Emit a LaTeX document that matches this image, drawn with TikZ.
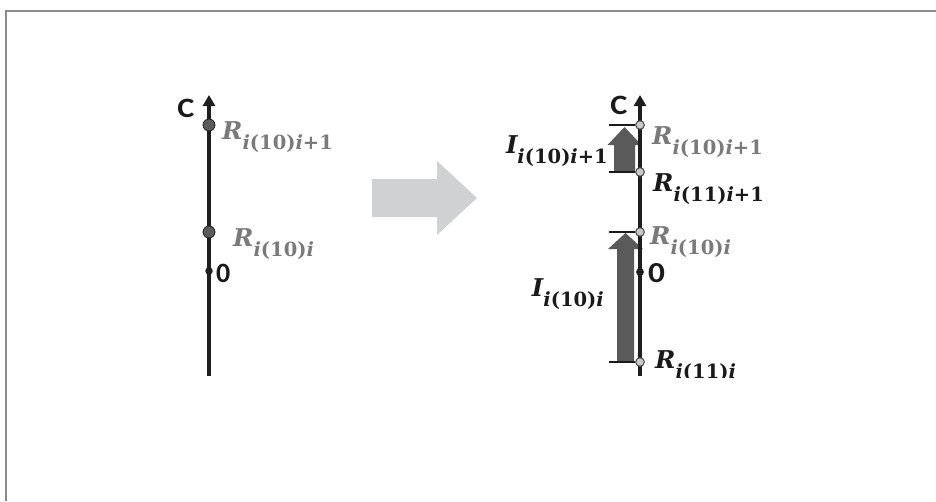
\documentclass[tikz,border=0pt]{standalone}
\usepackage{fontspec}
\usetikzlibrary{arrows.meta}

% label fonts
\newfontfamily\lblfont{DejaVu Serif}
\newfontfamily\axfont[FakeStretch=1.15]{Carlito}
\newfontfamily\zerofont{Carlito}
\newfontfamily\zerowide[FakeStretch=1.15]{Carlito}

\definecolor{framegray}{HTML}{8A8A8A}
\definecolor{axisblack}{HTML}{1E1E1E}
\definecolor{lblgray}{HTML}{7A7A7A}
\definecolor{lblblack}{HTML}{1A1A1A}
\definecolor{bigarrow}{HTML}{D0D1D3}
\definecolor{blockgray}{HTML}{5A5A5A}
\definecolor{dotdark}{HTML}{5B5B5B}
\definecolor{dotlight}{HTML}{C9C9C9}

% symbol with a lowered subscript
\newcommand\symsub[2]{{\fontsize{24.5}{24.5}\selectfont\itshape #1}\raisebox{-10pt}{\fontsize{19.5}{19.5}\selectfont #2}}
% subscript i(..)i...
\newcommand\idx[2]{\textit{i}(#1)\textit{i}#2}

\tikzset{
  axis/.style={line width=3.5pt, draw=axisblack, -{Triangle[width=12pt,length=11pt]}},
  bigdot/.style={circle, minimum size=12pt, inner sep=0pt, fill=dotdark, draw=axisblack, line width=0.8pt},
  opendot/.style={circle, minimum size=8.5pt, inner sep=0pt, fill=dotlight, draw=axisblack!80, line width=0.9pt},
  zerodot/.style={circle, minimum size=7.5pt, inner sep=0pt, fill=axisblack},
  tickline/.style={line width=2pt, draw=lblblack},
  lbl/.style={inner sep=0pt, font=\lblfont\bfseries, anchor=base west},
  axlbl/.style={inner sep=0pt, font=\axfont\bfseries\fontsize{28}{28}\selectfont, text=lblblack},
}

\begin{document}
\begin{tikzpicture}[x=1pt, y=-1pt]
  \useasboundingbox (0,0) rectangle (936,501);

  % frame
  \draw[framegray, line width=2pt] (5.5,501) -- (5.5,11) -- (936,11);

  % transition arrow
  \fill[bigarrow] (372,179) -- (437,179) -- (437,161) -- (477,198) -- (437,235)
                  -- (437,217) -- (372,217) -- cycle;

  % ---------- left axis ----------
  \coordinate (Lbot) at (209,376);
  \coordinate (Ltop) at (209,95);
  \draw[axis] (Lbot) -- (Ltop);
  \node[axlbl] (LC) at (186,108) {C};
  \node[bigdot] (La) at (209,125) {};
  \node[bigdot] (Lb) at (209,232) {};
  \node[zerodot] (Lz) at (209,271) {};
  \node[inner sep=0pt, anchor=west, font=\zerofont\bfseries\fontsize{28}{28}\selectfont, text=lblblack] (L0) at (216,273) {0};
  \node[lbl, text=lblgray] (LRa) at (222,139) {\symsub{R}{\idx{10}{+1}}};
  \node[lbl, text=lblgray] (LRb) at (233,246) {\symsub{R}{\idx{10}{}}};

  % ---------- right axis ----------
  \coordinate (Rbot) at (640,376);
  \coordinate (Rtop) at (640,95);

  % intervals
  \fill[blockgray] (614,172) -- (614,145) -- (607.5,145) -- (624.5,127) -- (641.5,145)
                   -- (635,145) -- (635,172) -- cycle;
  \fill[blockgray] (617,361) -- (617,249) -- (608,249) -- (625.5,233) -- (643,249)
                   -- (634,249) -- (634,361) -- cycle;

  \node[opendot] (Ra) at (640,125) {};
  \node[opendot] (Rb) at (640,172) {};
  \node[opendot] (Rc) at (640,232) {};
  \node[opendot] (Rd) at (640,362) {};
  \node[zerodot] (Rz) at (640,272) {};

  \coordinate (Ta) at (609,125);
  \coordinate (Tb) at (609,172);
  \coordinate (Tc) at (609,232);
  \coordinate (Td) at (609,362);
  \draw[tickline] (Ta) -- (Ra.west);
  \draw[tickline] (Tb) -- (Rb.west);
  \draw[tickline] (Tc) -- (Rc.west);
  \draw[tickline] (Td) -- (Rd.west);

  \draw[axis] (Rbot) -- (Rtop);
  \node[opendot] at (Ra) {};
  \node[opendot] at (Rb) {};
  \node[opendot] at (Rc) {};
  \node[opendot] at (Rd) {};
  \node[zerodot] at (Rz) {};

  \node[axlbl] (RC) at (619,105) {C};
  \node[inner sep=0pt, anchor=west, font=\zerowide\bfseries\fontsize{29}{29}\selectfont, text=lblblack] (R0) at (648,273) {0};

  \node[lbl, text=lblgray] (RRa) at (652,144) {\symsub{R}{\idx{10}{+1}}};
  \node[lbl, text=lblblack] (RRb) at (653,191) {\symsub{R}{\idx{11}{+1}}};
  \node[lbl, text=lblgray] (RRc) at (650,244) {\symsub{R}{\idx{10}{}}};
  \begin{scope}
    \clip (645,340) rectangle (800,377);
    \node[lbl, text=lblblack] (RRd) at (655,368) {\symsub{R}{\idx{11}{}}};
  \end{scope}

  \node[lbl, text=lblblack, anchor=base east] (Ia) at (608,153) {\symsub{I}{\idx{10}{+1}}};
  \node[lbl, text=lblblack, anchor=base east] (Ib) at (604,296) {\symsub{I}{\idx{10}{}}};
\end{tikzpicture}
\end{document}
